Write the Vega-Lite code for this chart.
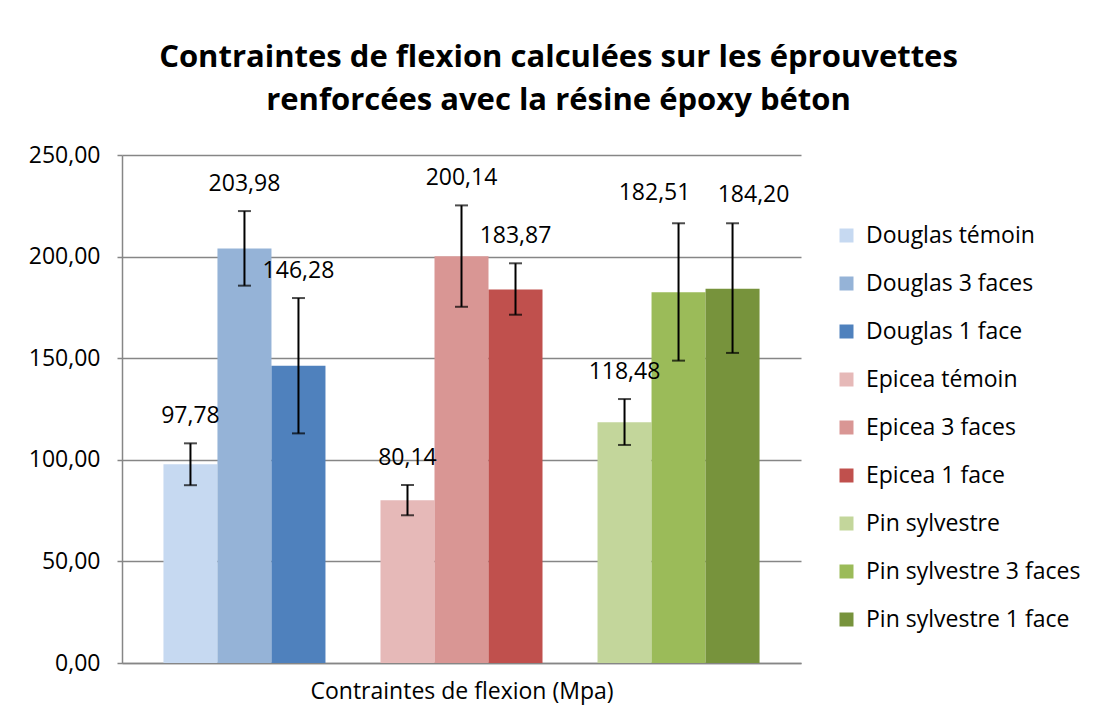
{
  "$schema": "https://vega.github.io/schema/vega-lite/v6.json",
  "width": 679,
  "height": 508,
  "autosize": {"type": "none"},
  "padding": {"left": 122, "top": 155, "right": 298, "bottom": 61},
  "background": "white",
  "config": {
    "font": "Open Sans",
    "view": {"stroke": null},
    "locale": {"number": {"decimal": ",", "thousands": " ", "grouping": [3], "currency": ["", " €"]}}
  },
  "title": {
    "text": ["Contraintes de flexion calculées sur les éprouvettes", "renforcées avec la résine époxy béton"],
    "font": "Open Sans",
    "fontSize": 31,
    "fontWeight": "bold",
    "color": "black",
    "lineHeight": 43,
    "anchor": "middle",
    "dx": 97,
    "offset": 27
  },
  "data": {
    "values": [
      {"series": "Douglas témoin", "group": "Douglas", "sub": "a", "value": 97.78, "lo": 87.5, "hi": 108.1},
      {"series": "Douglas 3 faces", "group": "Douglas", "sub": "b", "value": 203.98, "lo": 185.7, "hi": 222.4},
      {"series": "Douglas 1 face", "group": "Douglas", "sub": "c", "value": 146.28, "lo": 113.0, "hi": 179.6},
      {"series": "Epicea témoin", "group": "Epicea", "sub": "a", "value": 80.14, "lo": 72.7, "hi": 87.6},
      {"series": "Epicea 3 faces", "group": "Epicea", "sub": "b", "value": 200.14, "lo": 175.3, "hi": 225.2},
      {"series": "Epicea 1 face", "group": "Epicea", "sub": "c", "value": 183.87, "lo": 171.4, "hi": 196.7},
      {"series": "Pin sylvestre", "group": "Pin", "sub": "a", "value": 118.48, "lo": 107.3, "hi": 129.9},
      {"series": "Pin sylvestre 3 faces", "group": "Pin", "sub": "b", "value": 182.51, "lo": 148.8, "hi": 216.4},
      {"series": "Pin sylvestre 1 face", "group": "Pin", "sub": "c", "value": 184.20, "lo": 152.6, "hi": 216.4}
    ]
  },
  "encoding": {
    "x": {
      "field": "group", "type": "nominal", "sort": ["Douglas", "Epicea", "Pin"],
      "scale": {"paddingInner": 0.2535, "paddingOuter": 0.191},
      "axis": {
        "title": "Contraintes de flexion (Mpa)", "titleFont": "Open Sans", "titleFontSize": 23, "titleFontWeight": "normal",
        "titleColor": "black", "titlePadding": 17,
        "labels": false, "ticks": false, "domainColor": "#868686", "domainWidth": 1.5
      }
    },
    "xOffset": {"field": "sub", "type": "nominal", "sort": ["a", "b", "c"], "scale": {"paddingInner": 0, "paddingOuter": 0}}
  },
  "layer": [
    {
      "mark": {"type": "bar"},
      "encoding": {
        "y": {
          "field": "value", "type": "quantitative",
          "scale": {"domain": [0, 250], "nice": false},
          "axis": {
            "title": null, "values": [0, 50, 100, 150, 200, 250], "format": ".2f",
            "labelFont": "Open Sans", "labelFontSize": 23, "labelColor": "black", "labelPadding": 17,
            "gridColor": "#868686", "gridWidth": 1.5, "domainColor": "#868686", "domainWidth": 1.5,
            "tickColor": "#868686", "tickSize": 5, "tickWidth": 1.5
          }
        },
        "color": {
          "field": "series", "type": "nominal",
          "scale": {
            "domain": ["Douglas témoin", "Douglas 3 faces", "Douglas 1 face", "Epicea témoin", "Epicea 3 faces", "Epicea 1 face", "Pin sylvestre", "Pin sylvestre 3 faces", "Pin sylvestre 1 face"],
            "range": ["#C6D9F1", "#95B3D7", "#4F81BD", "#E6B9B8", "#D99694", "#C0504D", "#C3D69B", "#9BBB59", "#77933C"]
          },
          "legend": {
            "title": null, "orient": "none", "legendX": 713, "legendY": 69,
            "symbolType": "square", "symbolSize": 196, "symbolStrokeWidth": 0,
            "labelFont": "Open Sans", "labelFontSize": 23, "labelColor": "black", "labelOffset": 8,
            "rowPadding": 24, "labelLimit": 300
          }
        }
      }
    },
    {
      "mark": {"type": "rule", "color": "black", "strokeWidth": 2},
      "encoding": {"y": {"field": "lo", "type": "quantitative"}, "y2": {"field": "hi"}}
    },
    {
      "mark": {"type": "tick", "color": "black", "thickness": 2, "size": 13},
      "encoding": {"y": {"field": "lo", "type": "quantitative"}}
    },
    {
      "mark": {"type": "tick", "color": "black", "thickness": 2, "size": 13},
      "encoding": {"y": {"field": "hi", "type": "quantitative"}}
    },
    {
      "transform": [{"filter": "datum.series !== 'Pin sylvestre 3 faces' && datum.series !== 'Pin sylvestre 1 face'"}],
      "mark": {"type": "text", "font": "Open Sans", "fontSize": 23, "color": "black", "baseline": "middle", "dy": -27},
      "encoding": {
        "y": {"field": "hi", "type": "quantitative"},
        "text": {"field": "value", "type": "quantitative", "format": ".2f"}
      }
    },
    {
      "transform": [{"filter": "datum.series === 'Pin sylvestre 3 faces'"}],
      "mark": {"type": "text", "font": "Open Sans", "fontSize": 23, "color": "black", "baseline": "middle", "dy": -30, "dx": -24},
      "encoding": {
        "y": {"field": "hi", "type": "quantitative"},
        "text": {"field": "value", "type": "quantitative", "format": ".2f"}
      }
    },
    {
      "transform": [{"filter": "datum.series === 'Pin sylvestre 1 face'"}],
      "mark": {"type": "text", "font": "Open Sans", "fontSize": 23, "color": "black", "baseline": "middle", "dy": -28, "dx": 21},
      "encoding": {
        "y": {"field": "hi", "type": "quantitative"},
        "text": {"field": "value", "type": "quantitative", "format": ".2f"}
      }
    }
  ]
}
